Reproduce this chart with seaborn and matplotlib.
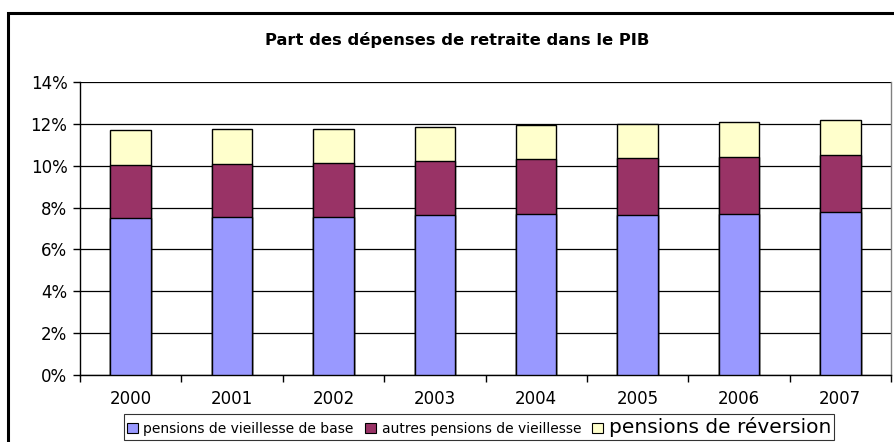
import numpy as np
import pandas as pd
import matplotlib
matplotlib.use("Agg")
import matplotlib.pyplot as plt
from matplotlib.patches import Rectangle, Patch
from matplotlib.ticker import FixedLocator, PercentFormatter
import seaborn as sns

# ── Data (% du PIB) ──────────────────────────────────────────────────────────
years = ["2000", "2001", "2002", "2003", "2004", "2005", "2006", "2007"]
base = [7.51, 7.53, 7.56, 7.63, 7.69, 7.66, 7.71, 7.77]
autres = [2.51, 2.54, 2.56, 2.59, 2.61, 2.69, 2.71, 2.73]
reversion = [1.67, 1.67, 1.65, 1.64, 1.64, 1.64, 1.67, 1.67]

labels = ["pensions de vieillesse de base", "autres pensions de vieillesse",
          "pensions de réversion"]
colors = ["#9999FF", "#993366", "#FFFFCC"]

df = pd.DataFrame({"annee": years, "base": base, "autres": autres,
                   "reversion": reversion})
df["cum_autres"] = df["base"] + df["autres"]
df["cum_total"] = df["cum_autres"] + df["reversion"]

# ── Figure ───────────────────────────────────────────────────────────────────
sns.set_style("white")
plt.rcParams["font.family"] = ["DejaVu Sans"]
plt.rcParams.update({"text.color": "black", "xtick.color": "black",
                     "ytick.color": "black", "axes.labelcolor": "black"})

fig = plt.figure(figsize=(8.94, 4.42), dpi=100)
W, H = 894, 442
ax = fig.add_axes([80 / W, 1 - 375 / H, (891 - 80) / W, (375 - 82) / H])

# stacked bars drawn as overlapping cumulative totals
for col, color in zip(["cum_total", "cum_autres", "base"], colors[::-1]):
    sns.barplot(data=df, x="annee", y=col, color=color, width=0.4,
                edgecolor="black", linewidth=1, saturation=1, ax=ax, zorder=3)

ax.set_ylim(0, 14)
ax.set_xlim(-0.5, 7.5)
ax.set_yticks(np.arange(0, 15, 2))
ax.yaxis.set_major_formatter(PercentFormatter(decimals=0))
ax.yaxis.grid(True, color="black", linewidth=0.9)
ax.set_axisbelow(True)
ax.set_xlabel("")
ax.set_ylabel("")

# ticks between categories, labels centred
ax.xaxis.set_minor_locator(FixedLocator(np.arange(-0.5, 8, 1)))
ax.tick_params(axis="x", which="major", length=0, pad=11, labelsize=12)
ax.tick_params(axis="x", which="minor", length=5, width=1, direction="out",
               color="black", bottom=True)
ax.tick_params(axis="y", length=5, width=1, direction="out", left=True,
               pad=4, labelsize=12, color="black")

for side in ["left", "bottom"]:
    ax.spines[side].set_color("black")
    ax.spines[side].set_linewidth(1)
ax.spines["top"].set_visible(False)
ax.spines["right"].set_color("#808080")
ax.spines["right"].set_linewidth(1)

fig.text(457 / W, 1 - 40 / H, "Part des dépenses de retraite dans le PIB",
         ha="center", va="center", fontsize=11.8, fontweight="bold")

# outer chart border (only left and top visible in the crop)
fig.patches.append(Rectangle((8 / W, -0.2), 1.2, 1 - 13 / H + 0.2,
                             transform=fig.transFigure, fill=False,
                             edgecolor="black", linewidth=2.2))

handles = [Patch(facecolor=c, edgecolor="black", linewidth=0.8) for c in colors]
leg = fig.legend(handles, labels, ncol=3, loc="center",
                 bbox_to_anchor=(479 / W, 1 - 427 / H), frameon=True,
                 fancybox=False, edgecolor="black", fontsize=10,
                 handlelength=0.8, handleheight=0.8, handletextpad=0.4,
                 columnspacing=0.8, borderpad=0.2, borderaxespad=0)
leg.get_frame().set_linewidth(0.8)
leg.get_texts()[2].set_fontsize(14.5)

fig.savefig("out.png", dpi=100)
